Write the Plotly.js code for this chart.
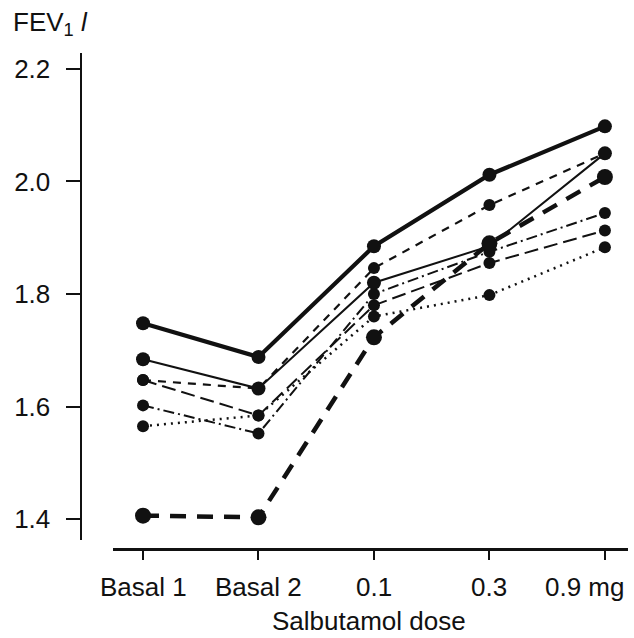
<!DOCTYPE html>
<html>
<head>
<meta charset="utf-8">
<script src="https://cdn.plot.ly/plotly-3.0.1.min.js"></script>
<style>html,body{margin:0;padding:0;background:#fff;}#chart{width:634px;height:638px;}</style>
</head>
<body>
<div id="chart"></div>
<script>
// Categories (x axis tick labels)
const doses = ["Basal 1", "Basal 2", "0.1", "0.3", "0.9 mg"];

// FEV1 (litres) for each subject line
const thickSolid  = [1.748, 1.688, 1.885, 2.012, 2.098];
const thinSolid   = [1.684, 1.632, 1.820, 1.885, 2.050];
const shortDash   = [1.647, 1.632, 1.846, 1.958, 2.050];
const thickDash   = [1.406, 1.403, 1.723, 1.890, 2.008];
const dotted      = [1.565, 1.584, 1.760, 1.798, 1.883];
const dashDot     = [1.602, 1.552, 1.800, 1.875, 1.944];
const longDash    = [1.647, 1.584, 1.780, 1.855, 1.913];

const yTicks = [1.4, 1.6, 1.8, 2.0, 2.2];
const yTickText = ["1.4", "1.6", "1.8", "2.0", "2.2"];

const W = 634, H = 638;
const ink = "#111";
const FS = 26;

function series(y, width, dash, msize) {
  return {
    x: doses, y: y, type: "scatter", mode: "lines+markers",
    line: {color: ink, width: width, dash: dash},
    marker: {color: ink, size: msize, symbol: "circle"},
    cliponaxis: false, showlegend: false, hoverinfo: "skip"
  };
}

const data = [
  series(dotted, 2.5, "2px,5px", 12),
  series(dashDot, 2, "11px,4px,2px,4px", 12),
  series(longDash, 2, "14px,6px", 12),
  series(shortDash, 2.2, "8px,7px", 12),
  series(thinSolid, 2, "solid", 14),
  series(thickDash, 4.5, "16px,11px", 16),
  series(thickSolid, 4.2, "solid", 14)
];

// pixel helpers for placement
const px = v => v / W;
const py = v => (H - v) / H;

// x tick labels drawn as annotations (category index on the x scale)
const tickLabelAnns = doses.map((d, i) => ({
  text: d, xref: "x", yref: "paper", x: i, y: py(587),
  xanchor: "center", yanchor: "middle", showarrow: false,
  xshift: i === doses.length - 1 ? -20 : 0,
  font: {size: FS, color: ink}
}));

const layout = {
  width: W, height: H,
  margin: {l: 0, r: 0, t: 0, b: 0},
  paper_bgcolor: "#fff", plot_bgcolor: "#fff",
  font: {family: "Liberation Sans, Arial, sans-serif", size: FS, color: ink},
  xaxis: {
    type: "category",
    domain: [px(113), px(628)],
    range: [-0.26, 4.2],
    anchor: "free", position: py(549),
    showline: true, linecolor: ink, linewidth: 2.5,
    ticks: "outside", ticklen: 9, tickwidth: 2, tickcolor: ink,
    showgrid: false, zeroline: false,
    showticklabels: false
  },
  yaxis: {
    domain: [py(540), py(53)],
    range: [1.3627, 2.2284],
    anchor: "free", position: px(80.5),
    showline: true, linecolor: ink, linewidth: 2.5,
    ticks: "outside", ticklen: 14, tickwidth: 2, tickcolor: ink,
    tickvals: yTicks, ticktext: yTickText,
    showgrid: false, zeroline: false,
    tickfont: {size: FS, color: ink},
    ticklabelstandoff: 10
  },
  annotations: [
    {text: "FEV<sub>1</sub> <i>l</i>", xref: "paper", yref: "paper",
     x: px(11), y: py(24), xanchor: "left", yanchor: "middle",
     showarrow: false, font: {size: FS, color: ink}},
    {text: "Salbutamol dose", xref: "paper", yref: "paper",
     x: px(369), y: py(621), xanchor: "center", yanchor: "middle",
     showarrow: false, font: {size: FS, color: ink}}
  ].concat(tickLabelAnns)
};

Plotly.newPlot("chart", data, layout, {staticPlot: true, displayModeBar: false});
</script>
</body>
</html>
